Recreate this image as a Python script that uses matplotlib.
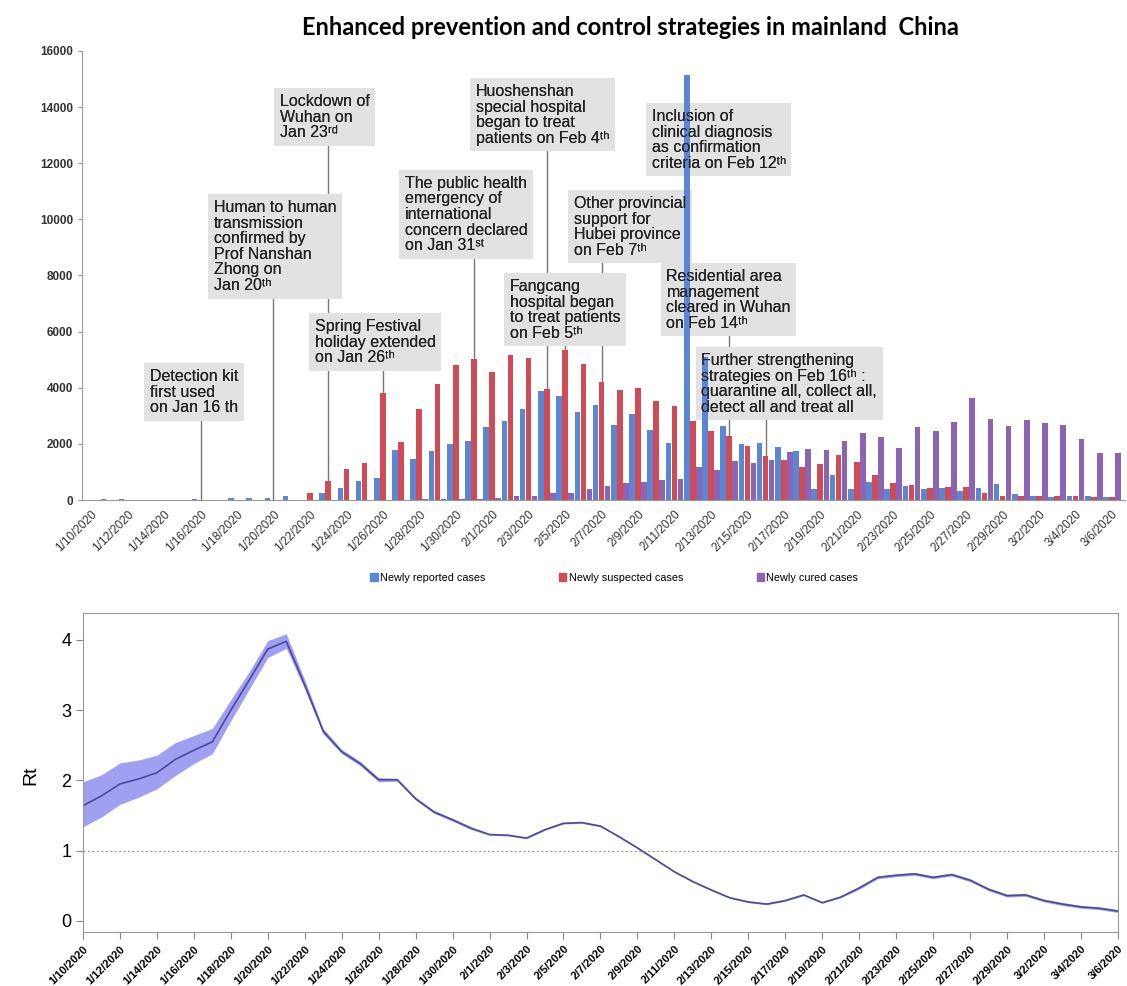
import numpy as np
import pandas as pd
import matplotlib
matplotlib.use("Agg")
import matplotlib.pyplot as plt
from matplotlib.patches import Patch

plt.rcParams['font.family'] = ['Liberation Sans', 'DejaVu Sans']

# ---- data ----
dates = pd.date_range('2020-01-10', '2020-03-06')
date_labels = [f"{d.month}/{d.day}/{d.year}" for d in dates]

reported = [0, 25, 20, 0, 0, 0, 20, 17, 59, 77, 77, 149, 0, 259, 444, 688, 769, 1771,
            1459, 1737, 1981, 2102, 2590, 2829, 3235, 3887, 3694, 3143, 3399, 2656, 3062,
            2478, 2015, 15152, 5090, 2641, 2009, 2048, 1886, 1749, 394, 889, 397, 648,
            409, 508, 406, 433, 327, 427, 573, 202, 125, 119, 139, 143, 99]
suspected = [0, 0, 0, 0, 0, 0, 0, 0, 0, 0, 0, 0, 257, 680, 1118, 1309, 3806, 2077,
             3248, 4148, 4812, 5019, 4562, 5173, 5072, 3971, 5328, 4833, 4214, 3916, 4008,
             3536, 3342, 2807, 2450, 2277, 1918, 1563, 1432, 1185, 1277, 1614, 1361, 882,
             620, 530, 439, 452, 451, 248, 132, 141, 129, 143, 143, 102, 99]
cured = [0, 0, 0, 0, 0, 0, 0, 0, 0, 0, 0, 0, 0, 0, 0, 0, 0, 0, 47, 21, 43, 47, 85, 157,
         157, 262, 261, 387, 510, 600, 632, 716, 744, 1171, 1081, 1373, 1323, 1425, 1701,
         1824, 1779, 2109, 2393, 2231, 1836, 2589, 2448, 2765, 3622, 2884, 2651, 2837,
         2742, 2660, 2170, 1681, 1678]
series_names = ['Newly reported cases', 'Newly suspected cases', 'Newly cured cases']

rt = [1.64, 1.78, 1.95, 2.02, 2.11, 2.30, 2.43, 2.55, 3.00, 3.43, 3.87, 3.98, 3.36, 2.70,
      2.41, 2.24, 2.01, 2.01, 1.74, 1.55, 1.44, 1.32, 1.23, 1.22, 1.18, 1.30, 1.39, 1.40,
      1.35, 1.20, 1.04, 0.87, 0.70, 0.56, 0.44, 0.33, 0.27, 0.24, 0.29, 0.37, 0.26, 0.34,
      0.47, 0.62, 0.65, 0.67, 0.62, 0.66, 0.58, 0.45, 0.36, 0.37, 0.29, 0.24, 0.20, 0.18, 0.14]
rt_hi = [1.98, 2.08, 2.25, 2.29, 2.36, 2.54, 2.64, 2.74, 3.15, 3.55, 3.99, 4.09, 3.43, 2.74,
         2.44, 2.27, 2.04, 2.03, 1.76, 1.57, 1.46, 1.34, 1.24, 1.23, 1.19, 1.31, 1.40, 1.41,
         1.36, 1.21, 1.05, 0.88, 0.71, 0.57, 0.45, 0.34, 0.28, 0.25, 0.30, 0.38, 0.27, 0.35,
         0.49, 0.64, 0.67, 0.69, 0.64, 0.68, 0.60, 0.47, 0.38, 0.39, 0.31, 0.26, 0.22, 0.20, 0.16]
rt_lo = [1.34, 1.48, 1.66, 1.76, 1.88, 2.07, 2.24, 2.38, 2.85, 3.30, 3.75, 3.88, 3.30, 2.66,
         2.38, 2.21, 1.98, 1.99, 1.72, 1.53, 1.42, 1.30, 1.22, 1.21, 1.17, 1.29, 1.38, 1.39,
         1.34, 1.19, 1.03, 0.86, 0.69, 0.55, 0.43, 0.32, 0.26, 0.23, 0.28, 0.36, 0.25, 0.33,
         0.45, 0.60, 0.63, 0.65, 0.60, 0.64, 0.56, 0.43, 0.34, 0.35, 0.27, 0.22, 0.18, 0.16, 0.12]

TH, RD, ST = '\u1d57\u02b0', '\u02b3\u1d48', '\u02e2\u1d57'
event_texts = [
    "Detection kit\nfirst used\non Jan 16 th",
    "Human to human\ntransmission\nconfirmed by\nProf Nanshan\nZhong on\nJan 20" + TH,
    "Lockdown of\nWuhan on\nJan 23" + RD,
    "Spring Festival\nholiday extended\non Jan 26" + TH,
    "The public health\nemergency of\ninternational\nconcern declared\non Jan 31" + ST,
    "Huoshenshan\nspecial hospital\nbegan to treat\npatients on Feb 4" + TH,
    "Fangcang\nhospital began\nto treat patients\non Feb 5" + TH,
    "Other provincial\nsupport for\nHubei province\non Feb 7" + TH,
    "Inclusion of\nclinical diagnosis\nas confirmation\ncriteria on Feb 12" + TH,
    "Residential area\nmanagement\ncleared in Wuhan\non Feb 14" + TH,
    "Further strengthening\nstrategies on Feb 16" + TH + " :\nquarantine all, collect all,\ndetect all and treat all",
]
event_days = [6, 10, 13, 16, 21, 25, 26, 28, None, 35, 37]
# layout: upper-left corner of each text (day, value)
event_pos = [(3.23, 4670), (6.74, 10690), (10.36, 14470), (12.27, 6450), (17.21, 11550),
             (21.10, 14825), (22.96, 7875), (26.47, 10835), (30.74, 13935), (31.56, 8230),
             (33.48, 5240)]

colors = ['#5b86d4', '#cf4b55', '#8c64b4']

fig = plt.figure(figsize=(11.27, 9.86), dpi=100)

# ---- top: bar chart ----
ax1 = fig.add_axes([0.0728, 0.4929, 0.9252, 0.4554])
x = np.arange(len(dates))
w = 0.31
for k, (vals, c) in enumerate(zip([reported, suspected, cured], colors)):
    ax1.bar(x + (k - 1) * 0.33, vals, width=w, color=c, zorder=3)

ax1.set_xlim(-0.5, 56.7)
ax1.set_ylim(0, 16000)
ax1.set_yticks(np.arange(0, 16001, 2000))
ax1.set_yticklabels([str(v) for v in range(0, 16001, 2000)], fontsize=8.5,
                    fontweight='bold', color='#333333')
ax1.set_xticks(x[::2])
ax1.set_xticklabels(date_labels[::2], rotation=45, ha='right', rotation_mode='anchor',
                    fontsize=8.5, color='#333333')
ax1.tick_params(axis='x', length=0, pad=6)
ax1.tick_params(axis='y', length=3, color='#999999')
for s in ['top', 'right']:
    ax1.spines[s].set_visible(False)
for s in ['left', 'bottom']:
    ax1.spines[s].set_color('#999999')

texts = []
for txt, (tx, ty) in zip(event_texts, event_pos):
    t = ax1.text(tx, ty, txt, ha='left', va='top', fontsize=11.5, linespacing=1.05,
                 color='#222222', zorder=1,
                 bbox=dict(boxstyle='square,pad=0.35', fc='#e2e2e2', ec='none'))
    ax1.text(tx, ty, txt, ha='left', va='top', fontsize=11.5, linespacing=1.05,
             color='#222222', zorder=5)
    texts.append(t)

fig.canvas.draw()
inv = ax1.transData.inverted()
for t, day in zip(texts, event_days):
    if day is None:
        continue
    bb = t.get_bbox_patch().get_window_extent()
    y_bottom = inv.transform((bb.x0, bb.y0))[1]
    ax1.plot([day, day], [0, y_bottom], color='#777777', lw=1, zorder=0.5)

fig.text(0.559, 0.972, 'Enhanced prevention and control strategies in mainland  China',
         ha='center', va='center', fontsize=17, fontweight='bold', family='Lato')

handles = [Patch(color=c) for c in colors]
fig.legend(handles, series_names, loc='center', bbox_to_anchor=(0.545, 0.414), ncol=3,
           frameon=False, fontsize=7.8, handlelength=0.7, handleheight=0.7,
           handletextpad=0.2, columnspacing=6.8)

# ---- bottom: Rt ----
ax2 = fig.add_axes([0.0736, 0.0548, 0.9184, 0.3235])
ax2.fill_between(x, rt_lo, rt_hi, color='#8f8ff2', alpha=0.85, lw=0)
ax2.plot(x, rt, color='#4a4a9a', lw=1.2)
ax2.axhline(1, color='#999999', lw=0.8, ls=(0, (2, 2)))
ax2.set_xlim(0, 56)
ax2.set_ylim(-0.157, 4.384)
ax2.set_yticks([0, 1, 2, 3, 4])
ax2.set_yticklabels(['0', '1', '2', '3', '4'], fontsize=13)
ax2.set_xticks(x[::2])
ax2.set_xticklabels(date_labels[::2], rotation=45, ha='right', rotation_mode='anchor',
                    fontsize=8, fontweight='bold')
ax2.tick_params(direction='out', length=5, color='#888888')
for s in ax2.spines.values():
    s.set_color('#999999')
fig.text(0.027, 0.214, 'Rt', rotation=90, ha='center', va='center', fontsize=14)

fig.savefig('out.png', dpi=100)
